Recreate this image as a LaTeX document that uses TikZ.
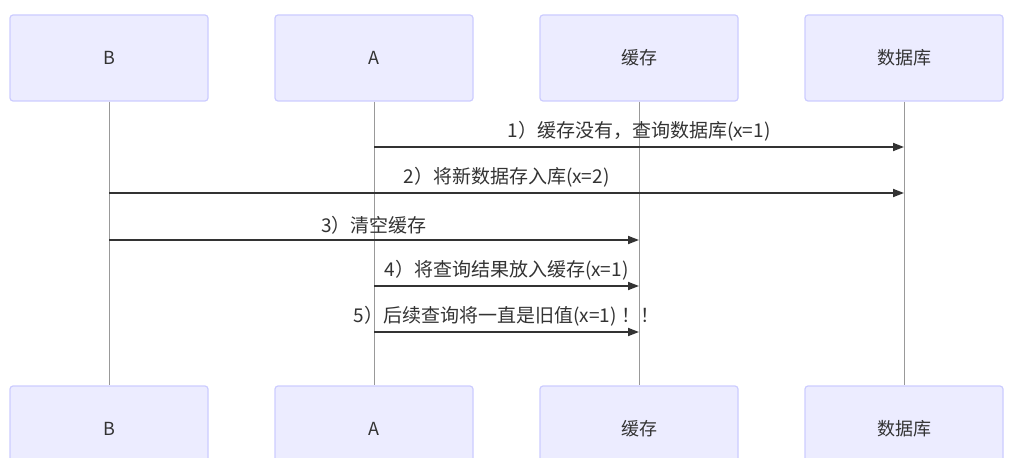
\documentclass[tikz,border=0pt]{standalone}
\usepackage{fontspec}
\setmainfont{Noto Sans CJK SC}
\usetikzlibrary{positioning,arrows.meta}

\definecolor{actorfill}{HTML}{ECECFF}
\definecolor{actorline}{HTML}{CCCCFF}
\definecolor{lifegray}{HTML}{999999}
\definecolor{msggray}{HTML}{333333}

\begin{document}
\begin{tikzpicture}[x=1pt, y=-1pt,
    actor/.style={draw=actorline, line width=1.2pt, fill=actorfill, rounded corners=3pt,
        minimum width=198pt, minimum height=86pt, inner sep=0pt, text=msggray,
        font=\fontsize{18}{21}\selectfont},
    lifeline/.style={draw=lifegray, line width=1pt},
    msg/.style={draw=msggray, line width=1.7pt, -{Triangle[length=11pt, width=8pt]}},
    lbl/.style={above=5pt, inner sep=0pt, text=msggray, font=\fontsize{19}{23}\selectfont}]
    \useasboundingbox (0,0) rectangle (1020,468);
    \clip (0,0) rectangle (1020,457);
    % participants, top row
    \node[actor] (b) at (109,58) {B};
    \node[actor] (a) at (374,58) {A};
    \node[actor] (cache) at (639,58) {缓存};
    \node[actor] (db) at (904,58) {数据库};
    % participants, bottom row
    \node[actor] (b2) at (109,429) {B};
    \node[actor] (a2) at (374,429) {A};
    \node[actor] (cache2) at (639,429) {缓存};
    \node[actor] (db2) at (904,429) {数据库};
    % lifelines
    \draw[lifeline] (b) -- (b2);
    \draw[lifeline] (a) -- (a2);
    \draw[lifeline] (cache) -- (cache2);
    \draw[lifeline] (db) -- (db2);
    % messages
    \draw[msg] (a |- 0,147) -- node[lbl] {1）缓存没有，查询数据库(x=1)} (db |- 0,147);
    \draw[msg] (b |- 0,193) -- node[lbl] {2）将新数据存入库(x=2)} (db |- 0,193);
    \draw[msg] (b |- 0,240) -- node[lbl] {3）清空缓存} (cache |- 0,240);
    \draw[msg] (a |- 0,286) -- node[lbl] {4）将查询结果放入缓存(x=1)} (cache |- 0,286);
    \draw[msg] (a |- 0,332) -- node[lbl] {5）后续查询将一直是旧值(x=1) ！！} (cache |- 0,332);
\end{tikzpicture}
\end{document}
